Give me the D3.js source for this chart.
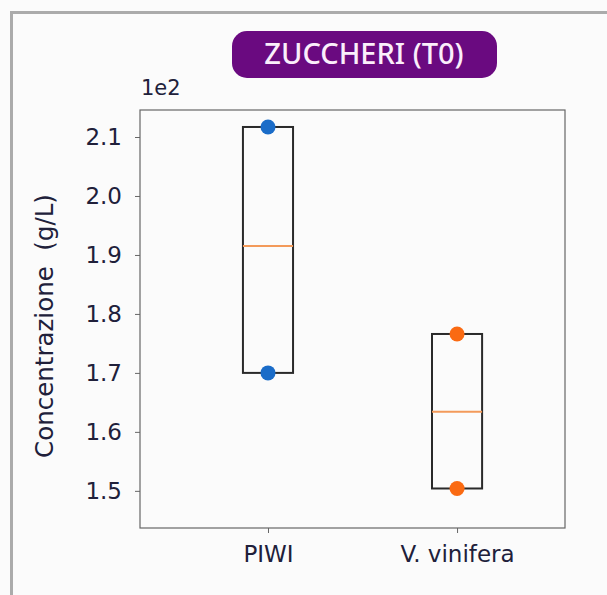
<!DOCTYPE html>
<html><head><meta charset="utf-8">
<script src="https://cdn.jsdelivr.net/npm/d3@7"></script>
<style>html,body{margin:0;padding:0;background:#fbfbfb;}svg{display:block;}</style>
</head><body>
<svg id="chart" width="607" height="595"></svg>
<script>
const categories = ["PIWI", "V. vinifera"];
const pointsHigh = [211.7, 176.6];
const pointsLow = [170.0, 150.4];
const medians = [191.5, 163.4];
const yTicks = [150, 160, 170, 180, 190, 200, 210];
const colors = ["#1a6cc8", "#fa6a12"];

const W = 607, H = 595;
const m = {left: 140, right: 565, top: 110, bottom: 528};
const svg = d3.select("#chart");
svg.append("rect").attr("width", W).attr("height", H).attr("fill", "#fbfbfb");
// outer grey frame
svg.append("path").attr("d", `M11.5,${H}V12.5H${W}`).attr("fill", "none").attr("stroke", "#ababab").attr("stroke-width", 3);

const x = d3.scaleLinear().domain([0.323, 2.571]).range([m.left, m.right]);
const y = d3.scaleLinear().domain([143.7, 214.58]).range([m.bottom, m.top]);

const ink = "#20203a";
const font = "DejaVu Sans, sans-serif";
// axes
const yAxis = d3.axisLeft(y).tickValues(yTicks).tickFormat(d => (d / 100).toFixed(1)).tickSize(5).tickPadding(13);
const gy = svg.append("g").attr("transform", `translate(${m.left},0)`).call(yAxis);
const xAxis = d3.axisBottom(x).tickValues([1, 2]).tickFormat((d, i) => categories[i]).tickSize(5).tickPadding(13);
const gx = svg.append("g").attr("transform", `translate(0,${m.bottom})`).call(xAxis);
[gy, gx].forEach(g => {
  g.select(".domain").remove();
  g.selectAll(".tick line").attr("stroke", "#666");
  g.selectAll(".tick text").attr("fill", ink).attr("font-family", font).attr("font-size", 23);
});

svg.append("rect").attr("x", m.left).attr("y", m.top).attr("width", m.right - m.left).attr("height", m.bottom - m.top)
  .attr("fill", "none").attr("stroke", "#666").attr("stroke-width", 1.2);

// boxes
const bw = 0.265;
const data = categories.map((c, i) => ({c, i: i + 1, hi: pointsHigh[i], lo: pointsLow[i], med: medians[i], col: colors[i]}));
const g = svg.append("g");
g.selectAll("rect.box").data(data).join("rect").attr("class", "box")
  .attr("x", d => x(d.i - bw / 2)).attr("width", d => x(d.i + bw / 2) - x(d.i - bw / 2))
  .attr("y", d => y(d.hi)).attr("height", d => y(d.lo) - y(d.hi))
  .attr("fill", "none").attr("stroke", "#2a2a2a").attr("stroke-width", 2);
g.selectAll("line.med").data(data).join("line").attr("class", "med")
  .attr("x1", d => x(d.i - bw / 2)).attr("x2", d => x(d.i + bw / 2))
  .attr("y1", d => y(d.med)).attr("y2", d => y(d.med))
  .attr("stroke", "#f39a5a").attr("stroke-width", 2);
const pts = data.flatMap(d => [{i: d.i, v: d.hi, col: d.col}, {i: d.i, v: d.lo, col: d.col}]);
g.selectAll("circle").data(pts).join("circle")
  .attr("cx", d => x(d.i)).attr("cy", d => y(d.v)).attr("r", 7.5).attr("fill", d => d.col);

// offset text
svg.append("text").attr("x", m.left + 1).attr("y", 95).attr("fill", ink)
  .attr("font-family", font).attr("font-size", 21).text("1e2");

// y label
svg.append("text").attr("transform", `translate(53,326) rotate(-90)`)
  .attr("text-anchor", "middle").attr("fill", ink).style("white-space", "pre")
  .attr("font-family", font).attr("font-size", 24.5).text("Concentrazione  (g/L)");

// title badge
svg.append("rect").attr("x", 232).attr("y", 31).attr("width", 265).attr("height", 47).attr("rx", 15)
  .attr("fill", "#6a0a80");
svg.append("text").attr("x", 364).attr("y", 64).attr("text-anchor", "middle").attr("fill", "#fbeefb")
  .attr("font-family", "Noto Sans, sans-serif").attr("font-weight", 500).attr("font-size", 29).text("ZUCCHERI (T0)");
</script>
</body></html>
